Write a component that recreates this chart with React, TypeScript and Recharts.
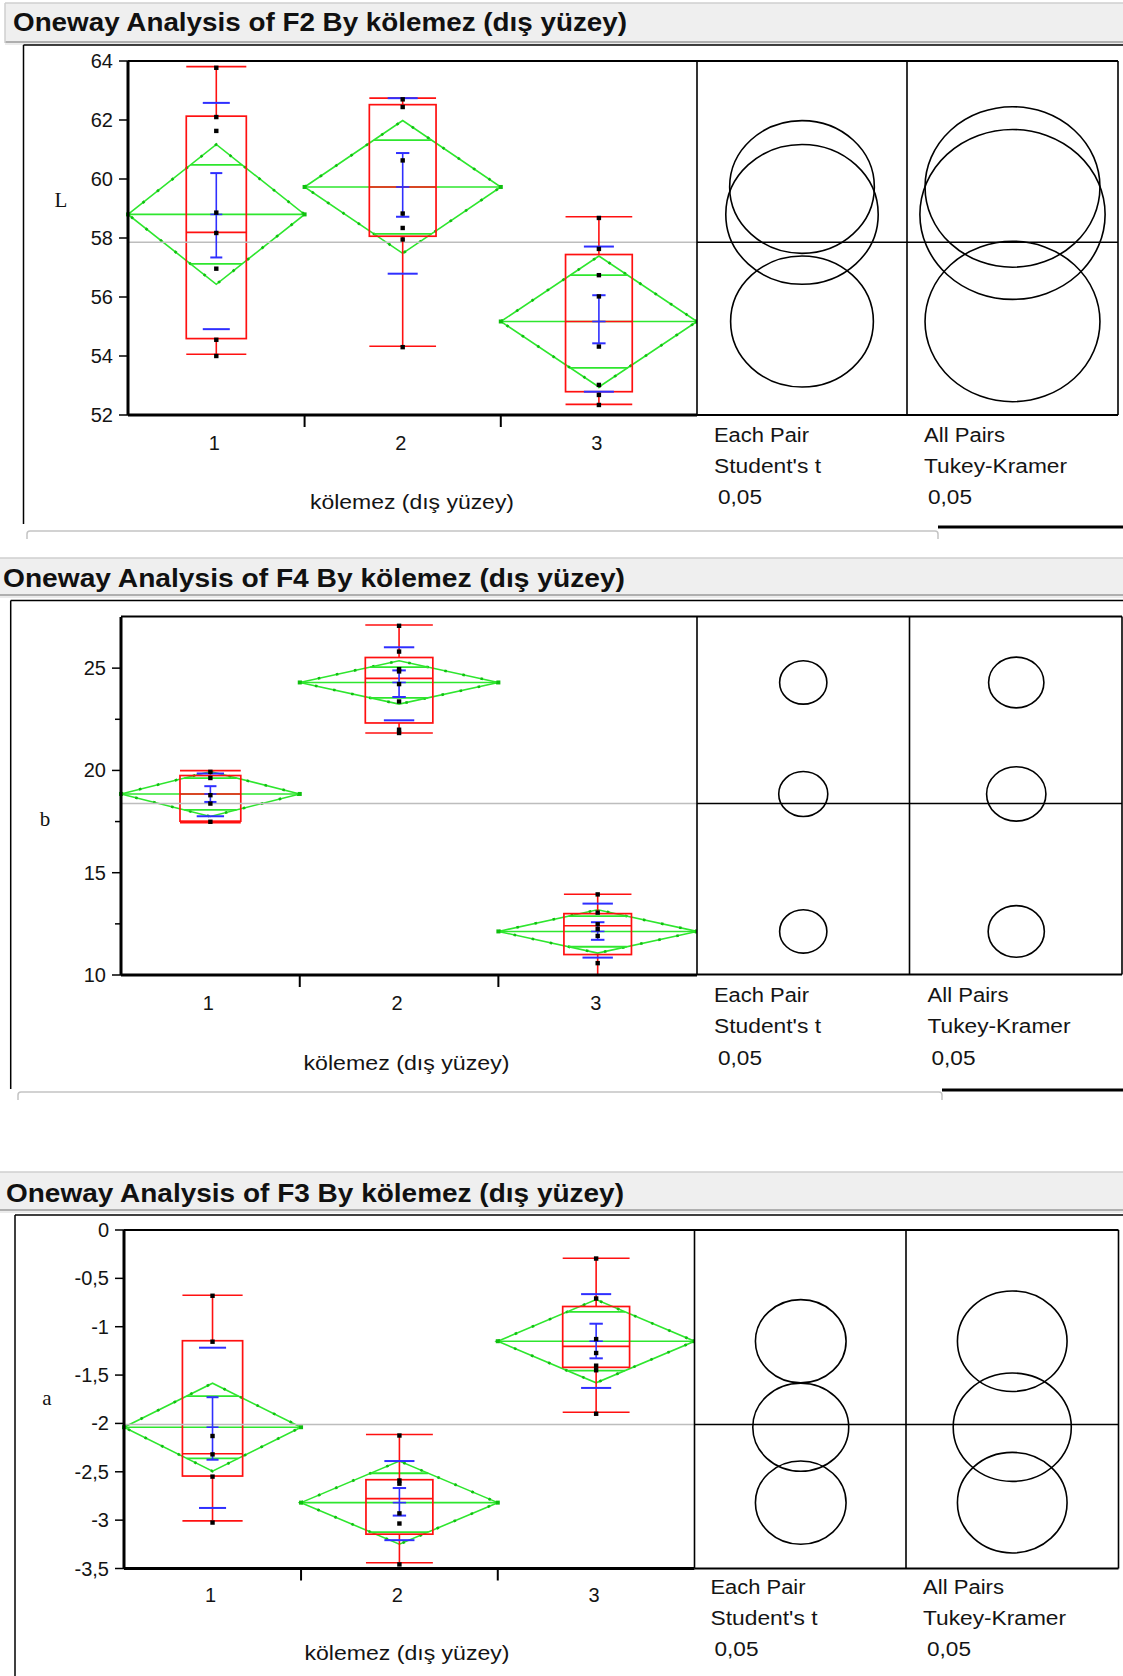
import React from 'react';
import { ComposedChart, Scatter, XAxis, YAxis, ReferenceLine, ReferenceArea } from 'recharts';

// ---------- shared categories ----------
const GROUPS = ['1', '2', '3'];
const GROUP_N = [9, 10, 10];
const X_TITLE = 'kölemez (dış yüzey)';
const STAT_LEFT = ['Each Pair', "Student's t", '0,05'];
const STAT_RIGHT = ['All Pairs', 'Tukey-Kramer', '0,05'];

// ---------- F2 (L) ----------
const F2_TITLE = 'Oneway Analysis of F2 By kölemez (dış yüzey)';
const F2_YLABEL = 'L';
const F2_DOMAIN = [52, 64];
const F2_TICKS = [52, 54, 56, 58, 60, 62, 64];
const F2_TICK_LABELS = [52, 54, 56, 58, 60, 62, 64];
const F2_MIN = [54.06, 54.33, 52.36];
const F2_Q1 = [54.59, 58.06, 52.79];
const F2_MEDIAN = [58.19, 59.73, 55.17];
const F2_Q3 = [62.13, 62.52, 57.44];
const F2_MAX = [63.81, 62.74, 58.72];
const F2_MEAN = [58.8, 59.73, 55.17];
const F2_CI_HALF = [2.37, 2.25, 2.22];
const F2_SE_LO = [57.34, 58.72, 54.43];
const F2_SE_HI = [60.2, 60.88, 56.06];
const F2_SD_LO = [54.91, 56.79, 52.79];
const F2_SD_HI = [62.58, 62.74, 57.71];
const F2_STUDENT_R = [2.37, 2.25, 2.22];
const F2_TUKEY_R = [2.88, 2.72, 2.72];
const F2_PTS_1 = [63.77, 62.1, 61.63, 58.86, 58.17, 56.96, 54.55, 54.0];
const F2_PTS_2 = [62.7, 62.44, 60.63, 58.83, 58.34, 57.95, 54.3];
const F2_PTS_3 = [58.68, 57.63, 56.74, 56.02, 54.32, 53.02, 52.68, 52.34];
const F2_GRAND = 57.86;

// ---------- F4 (b) ----------
const F4_TITLE = 'Oneway Analysis of F4 By kölemez (dış yüzey)';
const F4_YLABEL = 'b';
const F4_DOMAIN = [10, 27.5];
const F4_TICKS = [10, 12.5, 15, 17.5, 20, 22.5, 25];
const F4_TICK_LABELS = [10, 15, 20, 25];
const F4_MIN = [17.44, 21.83, 10.0];
const F4_Q1 = [17.52, 22.32, 11.0];
const F4_MEDIAN = [18.85, 24.5, 12.41];
const F4_Q3 = [19.75, 25.52, 13.0];
const F4_MAX = [19.99, 27.11, 13.95];
const F4_MEAN = [18.85, 24.3, 12.13];
const F4_CI_HALF = [1.1, 1.06, 1.06];
const F4_SE_LO = [18.46, 23.59, 11.72];
const F4_SE_HI = [19.23, 24.89, 12.58];
const F4_SD_LO = [17.76, 22.45, 10.85];
const F4_SD_HI = [19.85, 26.02, 13.49];
const F4_STUDENT_R = [1.1, 1.06, 1.06];
const F4_TUKEY_R = [1.33, 1.24, 1.26];
const F4_PTS_1 = [19.93, 19.63, 18.79, 18.38, 17.49];
const F4_PTS_2 = [27.07, 25.81, 24.95, 24.84, 24.22, 23.37, 21.99, 21.83];
const F4_PTS_3 = [13.94, 13.05, 12.48, 12.24, 11.91, 10.58];
const F4_GRAND = 18.38;

// ---------- F3 (a) ----------
const F3_TITLE = 'Oneway Analysis of F3 By kölemez (dış yüzey)';
const F3_YLABEL = 'a';
const F3_DOMAIN = [-3.5, 0];
const F3_TICKS = [-3.5, -3, -2.5, -2, -1.5, -1, -0.5, 0];
const F3_TICK_LABELS = [-3.5, -3, -2.5, -2, -1.5, -1, -0.5, 0];
const F3_MIN = [-3.008, -3.441, -1.884];
const F3_Q1 = [-2.544, -3.145, -1.42];
const F3_MEDIAN = [-2.314, -2.778, -1.203];
const F3_Q3 = [-1.145, -2.582, -0.791];
const F3_MAX = [-0.674, -2.114, -0.292];
const F3_MEAN = [-2.039, -2.819, -1.15];
const F3_CI_HALF = [0.455, 0.43, 0.43];
const F3_SE_LO = [-2.375, -2.953, -1.327];
const F3_SE_HI = [-1.729, -2.668, -0.969];
const F3_SD_LO = [-2.874, -3.207, -1.633];
const F3_SD_HI = [-1.217, -2.389, -0.663];
const F3_STUDENT_R = [0.455, 0.43, 0.43];
const F3_TUKEY_R = [0.56, 0.52, 0.52];
const F3_PTS_1 = [-0.68, -1.155, -2.13, -2.32, -2.55, -3.025];
const F3_PTS_2 = [-2.125, -2.59, -2.623, -2.93, -3.035, -3.458];
const F3_PTS_3 = [-0.295, -0.708, -1.128, -1.272, -1.403, -1.45, -1.9];
const F3_GRAND = -2.01;

const PANELS = [
  {
    title: F2_TITLE, yLabel: F2_YLABEL, domain: F2_DOMAIN, ticks: F2_TICKS, tickLabels: F2_TICK_LABELS,
    min: F2_MIN, q1: F2_Q1, median: F2_MEDIAN, q3: F2_Q3, max: F2_MAX, mean: F2_MEAN, ci: F2_CI_HALF,
    seLo: F2_SE_LO, seHi: F2_SE_HI, sdLo: F2_SD_LO, sdHi: F2_SD_HI,
    studentR: F2_STUDENT_R, tukeyR: F2_TUKEY_R, points: [F2_PTS_1, F2_PTS_2, F2_PTS_3], grand: F2_GRAND,
  },
  {
    title: F4_TITLE, yLabel: F4_YLABEL, domain: F4_DOMAIN, ticks: F4_TICKS, tickLabels: F4_TICK_LABELS,
    min: F4_MIN, q1: F4_Q1, median: F4_MEDIAN, q3: F4_Q3, max: F4_MAX, mean: F4_MEAN, ci: F4_CI_HALF,
    seLo: F4_SE_LO, seHi: F4_SE_HI, sdLo: F4_SD_LO, sdHi: F4_SD_HI,
    studentR: F4_STUDENT_R, tukeyR: F4_TUKEY_R, points: [F4_PTS_1, F4_PTS_2, F4_PTS_3], grand: F4_GRAND,
  },
  {
    title: F3_TITLE, yLabel: F3_YLABEL, domain: F3_DOMAIN, ticks: F3_TICKS, tickLabels: F3_TICK_LABELS,
    min: F3_MIN, q1: F3_Q1, median: F3_MEDIAN, q3: F3_Q3, max: F3_MAX, mean: F3_MEAN, ci: F3_CI_HALF,
    seLo: F3_SE_LO, seHi: F3_SE_HI, sdLo: F3_SD_LO, sdHi: F3_SD_HI,
    studentR: F3_STUDENT_R, tukeyR: F3_TUKEY_R, points: [F3_PTS_1, F3_PTS_2, F3_PTS_3], grand: F3_GRAND,
  },
];

// ---------- layout (page pixels) ----------
const LAYOUT = [
  {
    barTop: 3, barBottom: 43, barLeft: 5, titleX: 13, titleBase: 31, titleW: 614,
    frameLeft: 23.5, frameTop: 45, frameBottom: 524,
    plotLeft: 128, plotTop: 61, plotBottom: 415, groupRight: 697, c1Right: 907, c2Right: 1118,
    tickBaseDy: 35, yLabelX: 61, yLabelBase: 207,
    axisTitleX: 310, axisTitleBase: 509, axisTitleW: 204,
    statX: [714, 924], statBase: [442, 473, 504],
    greyLine: { y: 531, x1: 27, x2: 938 }, blackLine: { y: 527, x1: 938 },
  },
  {
    barTop: 558, barBottom: 596, barLeft: 0, titleX: 3, titleBase: 587, titleW: 622,
    frameLeft: 10.7, frameTop: 600.5, frameBottom: 1089,
    plotLeft: 121, plotTop: 616.5, plotBottom: 974.5, groupRight: 697, c1Right: 909.5, c2Right: 1122,
    tickBaseDy: 35, yLabelX: 45, yLabelBase: 826,
    axisTitleX: 303.5, axisTitleBase: 1070, axisTitleW: 206,
    statX: [714, 927.5], statBase: [1002, 1033, 1065],
    greyLine: { y: 1092, x1: 18, x2: 942 }, blackLine: { y: 1090, x1: 942 },
  },
  {
    barTop: 1172, barBottom: 1211, barLeft: 0, titleX: 6, titleBase: 1201.5, titleW: 618,
    frameLeft: 15, frameTop: 1215, frameBottom: 1676,
    plotLeft: 124, plotTop: 1230, plotBottom: 1568.5, groupRight: 694.5, c1Right: 906, c2Right: 1118.5,
    tickBaseDy: 33, yLabelX: 47, yLabelBase: 1405,
    axisTitleX: 304.5, axisTitleBase: 1660, axisTitleW: 205,
    statX: [710.5, 923], statBase: [1594, 1625, 1656],
    greyLine: null, blackLine: null,
  },
];

const RED = '#ff1010';
const GREEN = '#2ee62e';
const GREEN_DARK = '#0fbf0f';
const BLUE = '#2f2fff';
const FONT = '"Liberation Sans", Arial, sans-serif';
const TEXT = '#141414';
const BOX_FRAC = 0.34;
const ELLIPSE_ASPECT = 1.09;

const fmt = (v: number) => String(v).replace('.', ',');

function groupGeometry(n: number[]) {
  const starts: number[] = [];
  let acc = 0;
  n.forEach((v) => {
    starts.push(acc);
    acc += v;
  });
  const centers = n.map((v, i) => starts[i] + v / 2);
  return { starts, centers, total: acc, bounds: starts.slice(1) };
}

function diamondShape(p: any) {
  const { x, y, width: w, height: h } = p;
  const cx = x + w / 2;
  const cy = y + h / 2;
  const k = Math.SQRT1_2;
  const oy = (h / 2) * k;
  const ox = (w / 2) * (1 - k);
  const pts = `${x},${cy} ${cx},${y} ${x + w},${cy} ${cx},${y + h}`;
  return (
    <g>
      <polygon points={pts} fill="none" stroke={GREEN} strokeWidth={1.6} />
      <polygon points={pts} fill="none" stroke={GREEN_DARK} strokeWidth={2.6} strokeDasharray="2.5 16" />
      <line x1={x} y1={cy} x2={x + w} y2={cy} stroke={GREEN} strokeWidth={1.6} />
      <line x1={cx - ox} y1={cy - oy} x2={cx + ox} y2={cy - oy} stroke={GREEN} strokeWidth={1.8} />
      <line x1={cx - ox} y1={cy + oy} x2={cx + ox} y2={cy + oy} stroke={GREEN} strokeWidth={1.8} />
      <rect x={x - 2} y={cy - 2} width={4} height={4} fill={GREEN_DARK} />
      <rect x={x + w - 2} y={cy - 2} width={4} height={4} fill={GREEN_DARK} />
    </g>
  );
}

function boxShape(p: any) {
  return <rect x={p.x} y={p.y} width={p.width} height={p.height} fill="none" stroke={RED} strokeWidth={1.7} />;
}

function circleShape(p: any) {
  const cx = p.x + p.width / 2;
  const cy = p.y + p.height / 2;
  const ry = p.height / 2;
  return <ellipse cx={cx} cy={cy} rx={ry * ELLIPSE_ASPECT} ry={ry} fill="none" stroke="#000" strokeWidth={1.6} />;
}

function squareDot(p: any) {
  return <rect x={p.cx - 2.2} y={p.cy - 2.2} width={4.4} height={4.4} fill="#000" />;
}

const seg = (key: string, x1: number, y1: number, x2: number, y2: number, color: string, w = 1.6) => (
  <ReferenceLine
    key={key}
    segment={[{ x: x1, y: y1 }, { x: x2, y: y2 }]}
    stroke={color}
    strokeWidth={w}
    ifOverflow="visible"
  />
);

function GroupPlot({ d, L }: { d: any; L: any }) {
  const { starts, centers, total, bounds } = groupGeometry(GROUP_N);
  const points = d.points.flatMap((arr: number[], g: number) => arr.map((v) => ({ x: centers[g], y: v })));
  const xH = 140;
  const chartTop = L.plotTop - 10;
  const height = L.plotBottom - chartTop + xH;
  const xTicks = [centers[0], bounds[0], centers[1], bounds[1], centers[2]];

  const renderXTick = (p: any) => {
    const v = p.payload.value;
    const gi = centers.indexOf(v);
    if (gi >= 0) {
      return (
        <text x={p.x - 2} y={p.y + L.tickBaseDy} textAnchor="middle" fontSize={20} fontFamily={FONT} fill={TEXT}>
          {GROUPS[gi]}
        </text>
      );
    }
    return <line x1={p.x} x2={p.x} y1={p.y} y2={p.y + 12} stroke="#000" strokeWidth={2} />;
  };

  const renderYTick = (p: any) => {
    const v = p.payload.value;
    const major = d.tickLabels.includes(v);
    return (
      <g>
        <line x1={p.x - (major ? 9 : 6)} x2={p.x} y1={p.y} y2={p.y} stroke="#000" strokeWidth={1.5} />
        {major && (
          <text x={p.x - 15} y={p.y + 7} textAnchor="end" fontSize={20} fontFamily={FONT} fill={TEXT}>
            {fmt(v)}
          </text>
        )}
      </g>
    );
  };

  const marks: any[] = [];
  GROUPS.forEach((_, i) => {
    const c = centers[i];
    const bw = (GROUP_N[i] * BOX_FRAC) / 2;
    const sdw = bw * 0.45;
    const sew = bw * 0.2;
    marks.push(
      <ReferenceArea
        key={`dia${i}`}
        x1={starts[i]}
        x2={starts[i] + GROUP_N[i]}
        y1={d.mean[i] - d.ci[i]}
        y2={d.mean[i] + d.ci[i]}
        shape={diamondShape}
        ifOverflow="visible"
      />
    );
    marks.push(
      <ReferenceArea key={`box${i}`} x1={c - bw} x2={c + bw} y1={d.q1[i]} y2={d.q3[i]} shape={boxShape} ifOverflow="visible" />
    );
    marks.push(seg(`med${i}`, c - bw, d.median[i], c + bw, d.median[i], RED));
    marks.push(seg(`wu${i}`, c, d.q3[i], c, d.max[i], RED));
    marks.push(seg(`wd${i}`, c, d.q1[i], c, d.min[i], RED));
    marks.push(seg(`cu${i}`, c - bw, d.max[i], c + bw, d.max[i], RED));
    marks.push(seg(`cd${i}`, c - bw, d.min[i], c + bw, d.min[i], RED));
    marks.push(seg(`se${i}`, c, d.seLo[i], c, d.seHi[i], BLUE));
    marks.push(seg(`sel${i}`, c - sew, d.seLo[i], c + sew, d.seLo[i], BLUE, 2));
    marks.push(seg(`seh${i}`, c - sew, d.seHi[i], c + sew, d.seHi[i], BLUE, 2));
    marks.push(seg(`mn${i}`, c - sew, d.mean[i], c + sew, d.mean[i], BLUE));
    marks.push(seg(`sdl${i}`, c - sdw, d.sdLo[i], c + sdw, d.sdLo[i], BLUE, 2));
    marks.push(seg(`sdh${i}`, c - sdw, d.sdHi[i], c + sdw, d.sdHi[i], BLUE, 2));
  });

  return (
    <div style={{ position: 'absolute', left: 0, top: chartTop }}>
      <ComposedChart width={L.groupRight} height={height} margin={{ top: 10, right: 0, bottom: 0, left: 0 }}>
        <XAxis
          type="number"
          dataKey="x"
          domain={[0, total]}
          allowDataOverflow
          ticks={xTicks}
          interval={0}
          tickSize={0}
          tickMargin={0}
          tick={renderXTick}
          axisLine={{ stroke: '#000', strokeWidth: 3 }}
          height={xH}
        />
        <YAxis
          type="number"
          dataKey="y"
          domain={d.domain}
          allowDataOverflow
          ticks={d.ticks}
          interval={0}
          tickSize={0}
          tickMargin={0}
          tick={renderYTick}
          axisLine={{ stroke: '#000', strokeWidth: 3 }}
          width={L.plotLeft}
        />
        <ReferenceLine y={d.grand} stroke="#bdbdbd" strokeWidth={1.5} ifOverflow="visible" />
        {marks}
        <Scatter data={points} dataKey="y" isAnimationActive={false} shape={squareDot} />
      </ComposedChart>
    </div>
  );
}

function CirclePlot({ d, L, left, right, radii }: { d: any; L: any; left: number; right: number; radii: number[] }) {
  const chartTop = L.plotTop - 10;
  return (
    <div style={{ position: 'absolute', left, top: chartTop }}>
      <ComposedChart width={right - left} height={L.plotBottom - chartTop} margin={{ top: 10, right: 0, bottom: 0, left: 0 }}>
        <XAxis type="number" dataKey="x" domain={[0, 1]} hide allowDataOverflow />
        <YAxis type="number" dataKey="y" domain={d.domain} hide allowDataOverflow />
        <ReferenceLine y={d.grand} stroke="#000" strokeWidth={1.5} ifOverflow="visible" />
        {GROUPS.map((g, i) => (
          <ReferenceArea
            key={`c${g}`}
            x1={0}
            x2={1}
            y1={d.mean[i] - radii[i]}
            y2={d.mean[i] + radii[i]}
            shape={circleShape}
            ifOverflow="visible"
          />
        ))}
      </ComposedChart>
    </div>
  );
}

function Overlay() {
  return (
    <svg width={1123} height={1676} style={{ position: 'absolute', left: 0, top: 0, pointerEvents: 'none' }}>
      {LAYOUT.map((L, i) => {
        const d = PANELS[i];
        const stroke = '#000';
        return (
          <g key={i}>
            {/* title bar */}
            <rect x={L.barLeft} y={L.barTop} width={1123 - L.barLeft} height={L.barBottom - L.barTop} fill="#efefef" />
            <line x1={L.barLeft} x2={1123} y1={L.barTop} y2={L.barTop} stroke="#cfcfcf" strokeWidth={1.5} />
            <line x1={L.barLeft} x2={1123} y1={L.barBottom - 1} y2={L.barBottom - 1} stroke="#9a9a9a" strokeWidth={1.5} />
            <line x1={L.barLeft} x2={1123} y1={L.barBottom + 1} y2={L.barBottom + 1} stroke="#d8d8d8" strokeWidth={1} />
            {L.barLeft > 0 && (
              <line x1={L.barLeft} x2={L.barLeft} y1={L.barTop} y2={L.barBottom} stroke="#cfcfcf" strokeWidth={1.5} />
            )}
            <text
              x={L.titleX}
              y={L.titleBase}
              fontSize={25}
              fontWeight="bold"
              fontFamily={FONT}
              fill="#111"
              textLength={L.titleW}
              lengthAdjust="spacingAndGlyphs"
            >
              {d.title}
            </text>
            {/* outer frame */}
            <line x1={L.frameLeft} x2={L.frameLeft} y1={L.frameTop} y2={L.frameBottom} stroke={stroke} strokeWidth={1.5} />
            <line x1={L.frameLeft} x2={1123} y1={L.frameTop} y2={L.frameTop} stroke={stroke} strokeWidth={1.5} />
            {/* plot frame */}
            <line x1={L.plotLeft} x2={L.c2Right} y1={L.plotTop} y2={L.plotTop} stroke={stroke} strokeWidth={1.8} />
            <line x1={L.groupRight} x2={L.c2Right} y1={L.plotBottom} y2={L.plotBottom} stroke={stroke} strokeWidth={2.2} />
            {[L.groupRight, L.c1Right, L.c2Right].map((x: number, k: number) => (
              <line key={k} x1={x} x2={x} y1={L.plotTop} y2={L.plotBottom} stroke={stroke} strokeWidth={1.6} />
            ))}
            {/* y label */}
            <text x={L.yLabelX} y={L.yLabelBase} textAnchor="middle" fontSize={21} fontFamily='"Liberation Serif", "Times New Roman", serif' fill="#111">
              {d.yLabel}
            </text>
            {/* x title */}
            <text
              x={L.axisTitleX}
              y={L.axisTitleBase}
              fontSize={20}
              fontFamily={FONT}
              fill={TEXT}
              textLength={L.axisTitleW}
              lengthAdjust="spacingAndGlyphs"
            >
              {X_TITLE}
            </text>
            {/* comparison circle labels */}
            {STAT_LEFT.map((t, k) => (
              <text
                key={`l${k}`}
                x={L.statX[0] + (k === 2 ? 4 : 0)}
                y={L.statBase[k]}
                fontSize={20}
                fontFamily={FONT}
                fill={TEXT}
                textLength={[95, 107, 44][k]}
                lengthAdjust="spacingAndGlyphs"
              >
                {t}
              </text>
            ))}
            {STAT_RIGHT.map((t, k) => (
              <text
                key={`r${k}`}
                x={L.statX[1] + (k === 2 ? 4 : 0)}
                y={L.statBase[k]}
                fontSize={20}
                fontFamily={FONT}
                fill={TEXT}
                textLength={[81, 143, 44][k]}
                lengthAdjust="spacingAndGlyphs"
              >
                {t}
              </text>
            ))}
            {/* bottom edges */}
            {L.greyLine && (
              <path
                d={`M ${L.greyLine.x1} ${L.greyLine.y + 8} L ${L.greyLine.x1} ${L.greyLine.y + 3} Q ${L.greyLine.x1} ${L.greyLine.y} ${L.greyLine.x1 + 3} ${L.greyLine.y} L ${L.greyLine.x2 - 3} ${L.greyLine.y} Q ${L.greyLine.x2} ${L.greyLine.y} ${L.greyLine.x2} ${L.greyLine.y + 3} L ${L.greyLine.x2} ${L.greyLine.y + 8}`}
                fill="none"
                stroke="#c4c4c4"
                strokeWidth={1.5}
              />
            )}
            {L.blackLine && (
              <line x1={L.blackLine.x1} x2={1123} y1={L.blackLine.y} y2={L.blackLine.y} stroke="#000" strokeWidth={3} />
            )}
          </g>
        );
      })}
    </svg>
  );
}

export default function App() {
  return (
    <div style={{ position: 'absolute', left: 0, top: 0, width: 1123, height: 1676, background: '#fff', overflow: 'hidden' }}>
      {PANELS.map((d, i) => {
        const L = LAYOUT[i];
        return (
          <React.Fragment key={i}>
            <GroupPlot d={d} L={L} />
            <CirclePlot d={d} L={L} left={L.groupRight} right={L.c1Right} radii={d.studentR} />
            <CirclePlot d={d} L={L} left={L.c1Right} right={L.c2Right} radii={d.tukeyR} />
          </React.Fragment>
        );
      })}
      <Overlay />
    </div>
  );
}
